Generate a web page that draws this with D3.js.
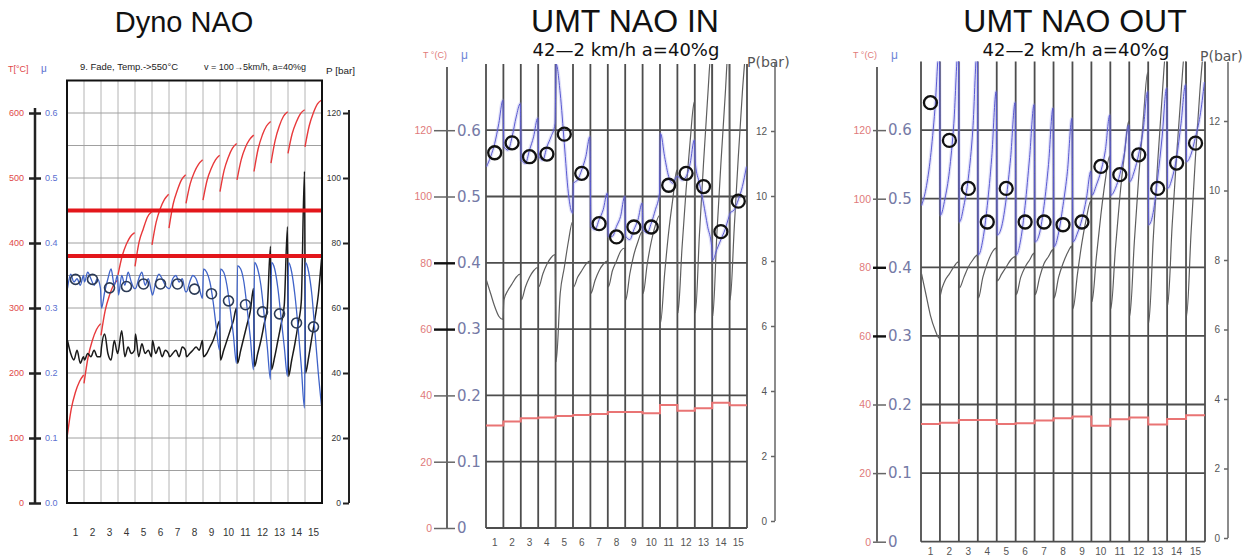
<!DOCTYPE html>
<html><head><meta charset="utf-8">
<script src="https://cdn.jsdelivr.net/npm/d3@7"></script>
<style>
html,body{margin:0;padding:0;background:#fff;}
svg{display:block;font-family:"Liberation Sans",Arial,sans-serif;}
</style></head><body>
<svg id="chart" width="1255" height="560"></svg>
<script>
const stopLabels = d3.range(1, 16).map(String);

// ---------- Dyno NAO (fade test, 15 stops) ----------
// temperature [°C], samples across each stop
const dynoTemp = [
  [100, 144, 170, 187, 197], [184, 225, 250, 267, 276], [258, 296, 319, 335, 343],
  [351, 380, 398, 410, 416], [364, 402, 422, 440, 448], [397, 432, 453, 467, 475],
  [423, 460, 481, 497, 505], [461, 491, 509, 521, 528], [466, 497, 515, 528, 535],
  [479, 512, 532, 546, 553], [497, 528, 547, 559, 566], [510, 545, 566, 580, 587],
  [523, 558, 580, 595, 602], [538, 568, 586, 599, 605], [548, 580, 600, 614, 620]
];
// friction coefficient μ
const dynoMu = [
  [0.33, 0.352, 0.34, 0.345, 0.335, 0.35], [0.34, 0.355, 0.345, 0.335, 0.345, 0.33],
  [0.30, 0.325, 0.345, 0.36, 0.335, 0.35], [0.32, 0.35, 0.335, 0.355, 0.34, 0.33],
  [0.33, 0.345, 0.355, 0.335, 0.345, 0.325], [0.32, 0.34, 0.352, 0.345, 0.335, 0.33],
  [0.33, 0.345, 0.35, 0.34, 0.345, 0.325], [0.325, 0.34, 0.35, 0.345, 0.33, 0.315],
  [0.36, 0.355, 0.34, 0.31, 0.27, 0.235], [0.36, 0.355, 0.335, 0.30, 0.26, 0.215],
  [0.365, 0.36, 0.34, 0.30, 0.255, 0.205], [0.37, 0.36, 0.335, 0.29, 0.24, 0.19],
  [0.37, 0.36, 0.33, 0.285, 0.24, 0.195], [0.37, 0.355, 0.32, 0.27, 0.21, 0.146],
  [0.37, 0.355, 0.32, 0.26, 0.20, 0.15]
];
// line pressure [bar]
const dynoPress = [
  [50, 46, 44, 47, 43, 45], [44, 46, 45, 47, 45, 45], [48, 52, 46, 44, 50, 46],
  [47, 53, 45, 48, 46, 47], [52, 45, 49, 46, 47, 45], [50, 46, 48, 45, 47, 46],
  [45, 46, 47, 45, 48, 47], [45, 46, 47, 48, 47, 50], [45, 46, 48, 50, 53, 56],
  [44, 47, 50, 53, 56, 60], [43, 47, 51, 55, 59, 66], [42, 46, 50, 55, 60, 79],
  [41, 45, 50, 55, 61, 85], [39, 44, 49, 55, 62, 102], [40, 45, 51, 57, 64, 75]
];
// mean μ per stop
const dynoMuMean = [0.344, 0.344, 0.331, 0.333, 0.337, 0.337, 0.337, 0.329,
                    0.322, 0.311, 0.305, 0.294, 0.291, 0.277, 0.271];
const dynoTempLimits = [450, 380];
const dynoTempTicks = [0, 100, 200, 300, 400, 500, 600];
const dynoMuTicks = [0, 0.1, 0.2, 0.3, 0.4, 0.5, 0.6];
const dynoPressTicks = [0, 20, 40, 60, 80, 100, 120];
const dynoGridMu = [0.05, 0.1, 0.15, 0.2, 0.25, 0.3, 0.35, 0.4, 0.45, 0.5, 0.55, 0.6];

// ---------- UMT NAO IN ----------
const inTemp = [30.9, 32.1, 33.1, 33.3, 33.8, 34.1, 34.4, 35.0, 35.0, 34.6, 37.1, 35.4, 36.1, 37.8, 37.0];
const inMu = [
  [0.545, 0.56, 0.58, 0.61, 0.645], [0.575, 0.57, 0.59, 0.62, 0.64], [0.555, 0.55, 0.57, 0.59, 0.618],
  [0.56, 0.555, 0.575, 0.59, 0.61], [0.70, 0.656, 0.58, 0.505, 0.475], [0.52, 0.525, 0.54, 0.56, 0.59],
  [0.455, 0.45, 0.465, 0.48, 0.505], [0.44, 0.44, 0.455, 0.47, 0.50], [0.44, 0.435, 0.45, 0.465, 0.49],
  [0.45, 0.445, 0.46, 0.48, 0.505], [0.595, 0.56, 0.53, 0.52, 0.53], [0.53, 0.525, 0.53, 0.55, 0.585],
  [0.55, 0.52, 0.49, 0.455, 0.424], [0.404, 0.42, 0.435, 0.45, 0.47], [0.475, 0.48, 0.495, 0.515, 0.545]
];
const inPress = [
  [7.4, 7.0, 6.6, 6.3, 6.2], [6.8, 7.1, 7.3, 7.5, 7.6], [6.8, 7.2, 7.5, 7.7, 7.8],
  [7.2, 7.6, 7.9, 8.1, 8.2], [4.9, 7.0, 7.8, 8.6, 9.2], [7.2, 7.5, 7.7, 7.9, 8.0],
  [7.0, 7.4, 7.7, 7.9, 8.0], [7.2, 7.7, 8.0, 8.3, 8.4], [6.8, 7.6, 8.2, 8.6, 8.9],
  [7.0, 7.9, 8.6, 9.1, 9.4], [6.1, 7.6, 8.9, 9.9, 10.8], [6.4, 8.4, 10.2, 11.7, 12.9],
  [6.4, 8.8, 11.0, 13.0, 14.6], [6.3, 8.8, 11.0, 13.0, 14.8], [6.8, 9.0, 11.2, 13.2, 14.8]
];
const inMuMean = [0.566, 0.581, 0.560, 0.564, 0.594, 0.535, 0.459, 0.439,
                  0.454, 0.454, 0.517, 0.535, 0.515, 0.447, 0.493];

// ---------- UMT NAO OUT ----------
const outTemp = [34.3, 34.7, 35.5, 35.5, 34.3, 34.5, 35.3, 36.0, 36.5, 33.8, 35.7, 36.2, 34.2, 35.8, 36.9];
const outMu = [
  [0.49, 0.515, 0.56, 0.63, 0.72], [0.476, 0.50, 0.54, 0.61, 0.72], [0.466, 0.49, 0.53, 0.60, 0.72],
  [0.418, 0.44, 0.49, 0.56, 0.656], [0.447, 0.46, 0.50, 0.56, 0.64], [0.418, 0.44, 0.49, 0.56, 0.637],
  [0.437, 0.45, 0.49, 0.55, 0.632], [0.43, 0.45, 0.49, 0.54, 0.617], [0.437, 0.45, 0.47, 0.50, 0.54],
  [0.505, 0.52, 0.54, 0.57, 0.622], [0.505, 0.515, 0.535, 0.565, 0.607], [0.525, 0.54, 0.565, 0.60, 0.656],
  [0.462, 0.48, 0.53, 0.59, 0.661], [0.515, 0.53, 0.56, 0.61, 0.666], [0.554, 0.565, 0.59, 0.62, 0.67]
];
const outPress = [
  [7.6, 7.0, 6.4, 6.0, 5.75], [7.0, 7.4, 7.6, 7.8, 7.95], [7.2, 7.5, 7.8, 8.0, 8.14],
  [6.9, 7.5, 7.9, 8.2, 8.34], [7.4, 7.6, 7.8, 8.0, 8.1], [7.0, 7.5, 7.8, 8.0, 8.2],
  [7.0, 7.5, 7.9, 8.1, 8.3], [6.9, 7.5, 7.9, 8.2, 8.4], [6.6, 7.6, 8.5, 9.2, 9.7],
  [6.8, 8.1, 9.3, 10.3, 11.0], [6.6, 8.3, 9.8, 11.0, 12.0], [6.4, 8.5, 10.4, 12.0, 13.4],
  [6.2, 8.6, 10.8, 12.7, 14.2], [6.7, 9.0, 11.0, 12.8, 14.2], [6.4, 8.8, 11.0, 12.9, 14.4]
];
const outMuMean = [0.640, 0.585, 0.515, 0.466, 0.515, 0.466, 0.466, 0.462,
                   0.466, 0.547, 0.535, 0.564, 0.515, 0.552, 0.581];

const umtTempTicks = [0, 20, 40, 60, 80, 100, 120];
const umtMuTicks = [0, 0.1, 0.2, 0.3, 0.4, 0.5, 0.6];
const umtPressTicks = [0, 2, 4, 6, 8, 10, 12];

const svg = d3.select("#chart");

// spread each stop's samples across its slot on the stop axis
function stopPoints(perStop, x, y, lo = 0.03, hi = 0.97) {
  const pts = [];
  perStop.forEach((vals, i) => {
    vals.forEach((v, j) => {
      const f = lo + (hi - lo) * j / (vals.length - 1);
      pts.push([x(i + f), y(v)]);
    });
  });
  return pts;
}
function stepPoints(vals, x, y) {
  const pts = [];
  vals.forEach((v, i) => { pts.push([x(i), y(v)]); pts.push([x(i + 1), y(v)]); });
  return pts;
}
const smooth = d3.line().curve(d3.curveMonotoneX);
const straight = d3.line();

function clipRect(id, x0, y0, x1, y1) {
  svg.append("clipPath").attr("id", id).append("rect")
    .attr("x", x0).attr("y", y0).attr("width", x1 - x0).attr("height", y1 - y0);
}
function styleAxis(g, color, size, family) {
  g.select(".domain").remove();
  g.selectAll("line").attr("stroke", "#222");
  g.selectAll("text").attr("fill", color).attr("font-size", size)
    .attr("font-family", family || "Liberation Sans, Arial, sans-serif");
}

// ================= Dyno NAO =================
(function () {
  const L = 67, R = 322, B = 503;
  const x = d3.scaleLinear([0, 15], [L, R]);
  const mu = d3.scaleLinear([0, 0.65], [B, 80.5]);
  const temp = d3.scaleLinear([0, 650], [B, 80.5]);
  const press = d3.scaleLinear([0, 130], [B, 80.5]);
  const g = svg.append("g");

  g.append("text").attr("x", 184).attr("y", 32).attr("text-anchor", "middle")
    .attr("font-size", 29).attr("fill", "#111").text("Dyno NAO");

  // header line
  g.append("text").attr("x", 8).attr("y", 72).attr("font-size", 9).attr("fill", "#e04848").text("T[°C]");
  g.append("text").attr("x", 41).attr("y", 72).attr("font-size", 10).attr("fill", "#5a6fd0").text("μ");
  g.append("text").attr("x", 80).attr("y", 70).attr("font-size", 8.5).attr("fill", "#222")
    .attr("textLength", 98).attr("lengthAdjust", "spacingAndGlyphs").text("9. Fade, Temp.->550°C");
  g.append("text").attr("x", 204).attr("y", 70).attr("font-size", 8.5).attr("fill", "#222")
    .attr("textLength", 102).attr("lengthAdjust", "spacingAndGlyphs").text("v = 100→5km/h, a=40%g");
  g.append("text").attr("x", 326).attr("y", 74).attr("font-size", 9).attr("fill", "#222")
    .attr("textLength", 29).attr("lengthAdjust", "spacingAndGlyphs").text("P [bar]");

  // grid
  g.append("g").selectAll("line").data(d3.range(1, 15)).join("line")
    .attr("x1", d => x(d)).attr("x2", d => x(d)).attr("y1", mu(0.65)).attr("y2", B)
    .attr("stroke", "#b4b4b4").attr("stroke-width", 1);
  g.append("g").selectAll("line").data(dynoGridMu).join("line")
    .attr("x1", L).attr("x2", R).attr("y1", d => mu(d)).attr("y2", d => mu(d))
    .attr("stroke", "#a0a0a0").attr("stroke-width", 1);

  clipRect("clipDyno", L, mu(0.65), R, B);
  const plot = g.append("g").attr("clip-path", "url(#clipDyno)");

  // temperature segments, one per stop
  dynoTemp.forEach((vals, i) => {
    plot.append("path").attr("d", smooth(stopPoints([vals], v => x(i + v), temp, 0.0, 0.98)))
      .attr("fill", "none").attr("stroke", "#e8393b").attr("stroke-width", 1.4);
  });
  plot.append("path").attr("d", smooth(stopPoints(dynoPress, x, press)))
    .attr("fill", "none").attr("stroke", "#1a1a1a").attr("stroke-width", 1.5);
  plot.append("path").attr("d", smooth(stopPoints(dynoMu, x, mu)))
    .attr("fill", "none").attr("stroke", "#3f63c8").attr("stroke-width", 1.3);
  plot.append("g").selectAll("line").data(dynoTempLimits).join("line")
    .attr("x1", L).attr("x2", R).attr("y1", d => temp(d)).attr("y2", d => temp(d))
    .attr("stroke", "#e3161b").attr("stroke-width", 4);
  plot.append("g").selectAll("circle").data(dynoMuMean).join("circle")
    .attr("cx", (d, i) => x(i + 0.5)).attr("cy", d => mu(d)).attr("r", 5)
    .attr("fill", "none").attr("stroke", "#2b3a55").attr("stroke-width", 1.6);

  g.append("rect").attr("x", L).attr("y", mu(0.65)).attr("width", R - L).attr("height", B - mu(0.65))
    .attr("fill", "none").attr("stroke", "#111").attr("stroke-width", 2);

  // left axis: temperature and μ on one spine
  g.append("line").attr("x1", 35).attr("x2", 35).attr("y1", 108).attr("y2", B)
    .attr("stroke", "#222").attr("stroke-width", 2.5);
  const aMu = g.append("g").attr("transform", "translate(29,0)")
    .call(d3.axisRight(mu).tickValues(dynoMuTicks).tickSize(12).tickPadding(4).tickFormat(d3.format(".1f")));
  styleAxis(aMu, "#5a6fd0", 9);
  aMu.selectAll("line").attr("stroke-width", 2.5);
  const aT = g.append("g").attr("transform", "translate(29,0)")
    .call(d3.axisLeft(temp).tickValues(dynoTempTicks).tickSize(0).tickPadding(5));
  styleAxis(aT, "#e04848", 9);

  // right axis: pressure
  g.append("line").attr("x1", 349).attr("x2", 349).attr("y1", 110).attr("y2", B)
    .attr("stroke", "#222").attr("stroke-width", 2);
  const aP = g.append("g").attr("transform", "translate(349,0)")
    .call(d3.axisLeft(press).tickValues(dynoPressTicks).tickSize(6).tickPadding(2));
  styleAxis(aP, "#333", 8.5);
  aP.selectAll("line").attr("stroke-width", 2);

  // stop numbers
  g.append("g").selectAll("text").data(stopLabels).join("text")
    .attr("x", (d, i) => x(i + 0.5)).attr("y", 536).attr("text-anchor", "middle")
    .attr("font-size", 10).attr("fill", "#333").text(d => d);
})();

// ================= UMT panels =================
function umtPanel(c) {
  const x = d3.scaleLinear([0, 15], [c.L, c.R]);
  const mu = d3.scaleLinear([0, 0.7], [c.B, c.B - 0.7 * c.muPx]);
  const temp = d3.scaleLinear([0, 140], [c.B, c.B - 0.7 * c.muPx]);
  const press = d3.scaleLinear([0, 12], c.pressRange);
  const top = mu(0.7);
  const g = svg.append("g");

  g.append("text").attr("x", c.titleX).attr("y", 32).attr("text-anchor", "middle")
    .attr("font-size", 32).attr("fill", "#111").text(c.title);
  g.append("text").attr("x", c.titleX + 1).attr("y", 56).attr("text-anchor", "middle")
    .attr("font-size", 18).attr("fill", "#111").attr("font-family", "DejaVu Sans, sans-serif")
    .text("42—2 km/h a=40%g");

  g.append("text").attr("x", c.axisX - 24).attr("y", 58).attr("font-size", 9).attr("fill", "#e07a7a").text("T °(C)");
  g.append("text").attr("x", c.axisX + 14).attr("y", 59).attr("font-size", 12).attr("fill", "#6f86d8").text("μ");
  g.append("text").attr("x", c.pAxisX - 28).attr("y", c.pLabelY).attr("font-size", 14).attr("fill", "#555")
    .attr("font-family", "DejaVu Sans, sans-serif").text("P(bar)");

  // grid
  g.append("g").selectAll("line").data(d3.range(0, 16)).join("line")
    .attr("x1", d => x(d)).attr("x2", d => x(d)).attr("y1", top).attr("y2", c.B)
    .attr("stroke", "#4d4d4d").attr("stroke-width", 1.8);
  g.append("g").selectAll("line").data(umtMuTicks).join("line")
    .attr("x1", c.L).attr("x2", c.R).attr("y1", d => mu(d)).attr("y2", d => mu(d))
    .attr("stroke", "#4d4d4d").attr("stroke-width", 1.8);

  clipRect(c.id, c.L, top, c.R, c.B);
  const plot = g.append("g").attr("clip-path", `url(#${c.id})`);

  plot.append("path").attr("d", straight(stepPoints(c.temp, x, temp)))
    .attr("fill", "none").attr("stroke", "#e97474").attr("stroke-width", 2);
  plot.append("path").attr("d", smooth(stopPoints(c.press, x, press)))
    .attr("fill", "none").attr("stroke", "#5e5e5e").attr("stroke-width", 1.2);
  const muPath = smooth(stopPoints(c.mu, x, mu));
  plot.append("path").attr("d", muPath).attr("fill", "none")
    .attr("stroke", "#8a8ae6").attr("stroke-width", 3.5).attr("stroke-opacity", 0.25);
  plot.append("path").attr("d", muPath).attr("fill", "none")
    .attr("stroke", "#5a5ad2").attr("stroke-width", 1);
  g.append("g").selectAll("circle").data(c.mean).join("circle")
    .attr("cx", (d, i) => x(i + 0.5)).attr("cy", d => mu(d)).attr("r", 6.5)
    .attr("fill", "none").attr("stroke", "#111").attr("stroke-width", 2.3);

  // left axis
  g.append("line").attr("x1", c.axisX).attr("x2", c.axisX).attr("y1", 67).attr("y2", c.B)
    .attr("stroke", "#555").attr("stroke-width", 1.8);
  const aMu = g.append("g").attr("transform", `translate(${c.axisX - c.tickIn},0)`)
    .call(d3.axisRight(mu).tickValues(umtMuTicks).tickSize(c.tickLen).tickPadding(2)
      .tickFormat(d => d === 0 ? "0" : d3.format(".1f")(d)));
  styleAxis(aMu, "#757aa6", 15, "DejaVu Sans, sans-serif");
  aMu.selectAll("line").attr("stroke", d => (d === 0.3 || d === 0.4) ? "#111" : "#666")
    .attr("stroke-width", d => (d === 0.3 || d === 0.4) ? 2.4 : 1.5);
  const aT = g.append("g").attr("transform", `translate(${c.axisX - c.tickIn},0)`)
    .call(d3.axisLeft(temp).tickValues(umtTempTicks).tickSize(0).tickPadding(2));
  styleAxis(aT, "#e07a7a", 10.5);

  // right axis
  g.append("line").attr("x1", c.pAxisX).attr("x2", c.pAxisX).attr("y1", 62).attr("y2", press(0))
    .attr("stroke", "#666").attr("stroke-width", 1.5);
  const aP = g.append("g").attr("transform", `translate(${c.pAxisX},0)`)
    .call(d3.axisLeft(press).tickValues(umtPressTicks).tickSize(4).tickPadding(4));
  styleAxis(aP, "#555", 10);
  aP.selectAll("line").attr("stroke", "#666").attr("stroke-width", 1.5);

  g.append("g").selectAll("text").data(stopLabels).join("text")
    .attr("x", (d, i) => x(i + 0.5)).attr("y", c.labelY).attr("text-anchor", "middle")
    .attr("font-size", 10).attr("fill", "#555").text(d => d);
}

umtPanel({
  id: "clipIn", title: "UMT NAO IN", titleX: 625,
  L: 486, R: 747, B: 528, muPx: 663, axisX: 447, tickIn: 13, tickLen: 21,
  pAxisX: 775, pressRange: [521, 131], pLabelY: 67, labelY: 546,
  temp: inTemp, mu: inMu, press: inPress, mean: inMuMean
});
umtPanel({
  id: "clipOut", title: "UMT NAO OUT", titleX: 1075,
  L: 921, R: 1205, B: 541.7, muPx: 686, axisX: 877, tickIn: 4, tickLen: 13,
  pAxisX: 1228, pressRange: [538, 121], pLabelY: 61, labelY: 555,
  temp: outTemp, mu: outMu, press: outPress, mean: outMuMean
});
</script></body></html>
